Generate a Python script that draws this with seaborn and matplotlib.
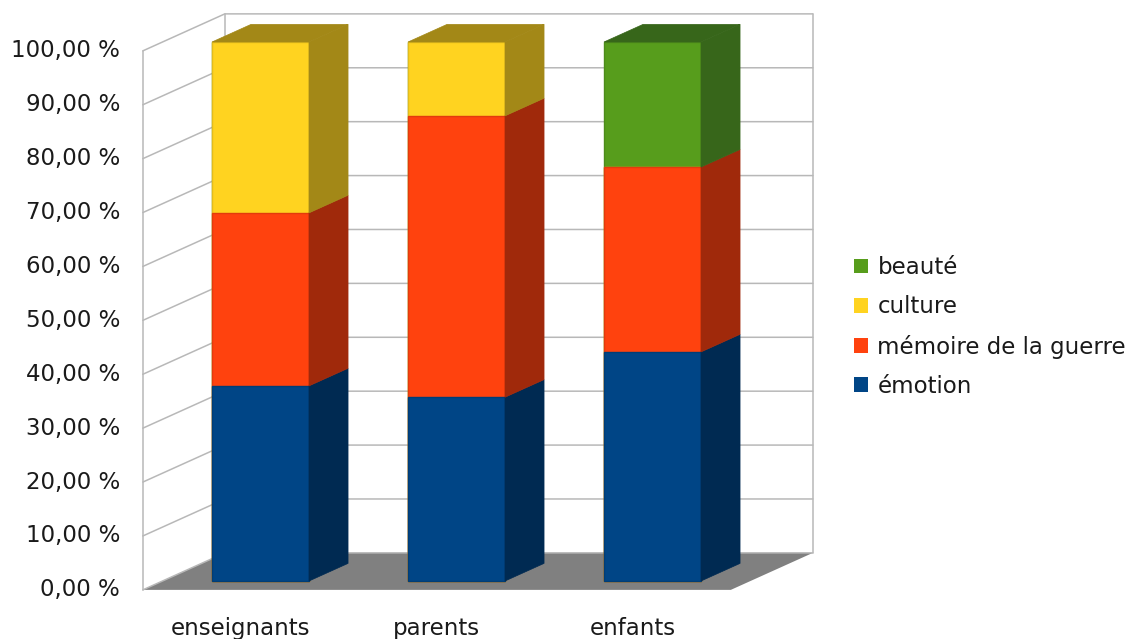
import numpy as np
import pandas as pd
import seaborn as sns
import matplotlib.pyplot as plt
import matplotlib.colors as mcolors
from matplotlib.patches import Polygon, Patch

# données (en %)
categories = ['enseignants', 'parents', 'enfants']
series = ['émotion', 'mémoire de la guerre', 'culture', 'beauté']
emotion = [36.2, 34.1, 42.5]
memoire = [32.1, 52.2, 34.3]
culture = [31.7, 13.7, 0.0]
beaute = [0.0, 0.0, 23.2]
yticks = [0, 10, 20, 30, 40, 50, 60, 70, 80, 90, 100]

front_colors = ['#004586', '#ff420e', '#ffd320', '#579d1c']
side_colors = ['#002a52', '#a0290b', '#a38817', '#37661a']

# pseudo 3D : vecteur de profondeur (en unités de données)
DX, DY = 0.4184, 6.865
F0 = 0.24       # avant du sol par rapport à l'avant des barres
BAR_D = 0.476   # profondeur des barres
BAR_W = 0.495
FS = 16.5


def proj(x, y, d):
    return x + d * DX, y + d * DY


sns.set_theme(style='white')
plt.rcParams['font.family'] = ['DejaVu Sans']
txt_color = '#1a1a1a'

fig = plt.figure(figsize=(11.26, 6.39), dpi=100)
ax = fig.add_axes([0, 0, 1, 1])

layers = [emotion, memoire, culture, beaute]
cum = np.cumsum(np.array(layers), axis=0)
df = pd.DataFrame({'cat': categories})
for i in range(4):
    df[f'cum{i}'] = cum[i]

n = len(categories)
x0, x1 = -0.5, n - 0.5

# sol
floor = [proj(x0, 0, -F0), proj(x1, 0, -F0), proj(x1, 0, 1 - F0), proj(x0, 0, 1 - F0)]
ax.add_patch(Polygon(floor, closed=True, facecolor='#808080', edgecolor='none', zorder=0))

# grille murs
grid_c = '#b8b8b8'
for v in yticks:
    a = proj(x0, v, -F0)
    b = proj(x0, v, 1 - F0)
    c = proj(x1, v, 1 - F0)
    ax.plot([a[0], b[0], c[0]], [a[1], b[1], c[1]], color=grid_c, lw=1.1, zorder=0.5)
for (xx, d) in [(x0, -F0), (x0, 1 - F0), (x1, 1 - F0)]:
    a = proj(xx, 0, d)
    b = proj(xx, 100, d)
    ax.plot([a[0], b[0]], [a[1], b[1]], color=grid_c, lw=1.1, zorder=0.5)

# faces avant (barres empilées)
for i in range(3, -1, -1):
    edge = mcolors.to_hex(0.7 * np.array(mcolors.to_rgb(front_colors[i])) +
                          0.3 * np.array(mcolors.to_rgb(side_colors[i])))
    sns.barplot(data=df, x='cat', y=f'cum{i}', color=front_colors[i], saturation=1,
                width=BAR_W, errorbar=None, edgecolor=edge, linewidth=1.0, ax=ax, zorder=2)

# faces latérales et dessus
sx, sy = BAR_D * DX, BAR_D * DY
for j in range(n):
    xl, xr = j - BAR_W / 2, j + BAR_W / 2
    bottom = 0
    for i in range(4):
        top = cum[i][j]
        if top - bottom <= 0:
            continue
        side = [(xr, bottom), (xr + sx, bottom + sy), (xr + sx, top + sy), (xr, top)]
        ax.add_patch(Polygon(side, closed=True, facecolor=side_colors[i],
                             edgecolor=side_colors[i], lw=0.5, zorder=2))
        last = i
        bottom = top
    lid = [(xl, bottom), (xr, bottom), (xr + sx, bottom + sy), (xl + sx, bottom + sy)]
    ax.add_patch(Polygon(lid, closed=True, facecolor=side_colors[last],
                         edgecolor=side_colors[last], lw=0.5, zorder=2))

# étiquettes de l'axe y
for v in yticks:
    px, py = proj(x0, v, -F0)
    ax.text(px - 0.116, py, f'{v:.2f} %'.replace('.', ','), ha='right', va='center',
            fontsize=FS, color=txt_color)

# étiquettes des catégories
for j, c in enumerate(categories):
    px, _ = proj(j, 0, -F0)
    ax.text(px, -6.7, c, ha='center', va='top', fontsize=FS, color=txt_color)

handles = [Patch(facecolor=front_colors[i], edgecolor='none', label=series[i]) for i in range(3, -1, -1)]
ax.legend(handles=handles, loc='center left', bbox_to_anchor=(854 / 1126, 1 - 327 / 639),
          bbox_transform=fig.transFigure, frameon=False, fontsize=FS, handlelength=0.62,
          handleheight=0.62, handletextpad=0.4, labelspacing=0.71, borderpad=0,
          borderaxespad=0, labelcolor=txt_color)

ax.set_xlim(-260.5 / 196, (1126 - 260.5) / 196)
ax.set_ylim((581 - 639) / 5.39, 581 / 5.39)
ax.set_xlabel('')
ax.set_ylabel('')
ax.axis('off')

fig.savefig('out.png', dpi=100)
